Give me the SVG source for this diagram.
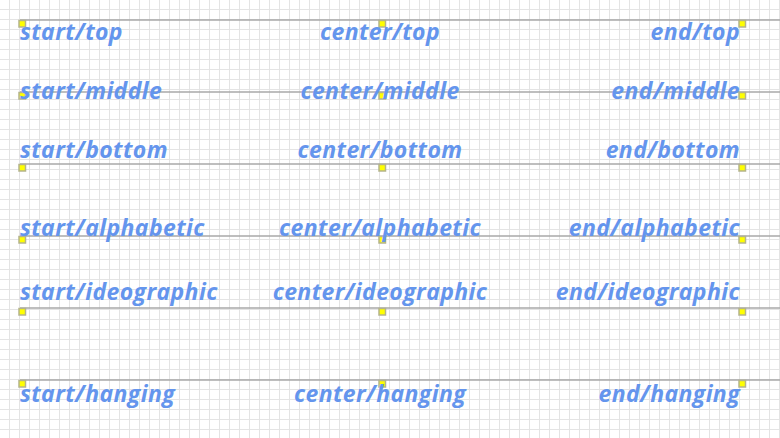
<svg xmlns="http://www.w3.org/2000/svg" width="780" height="438" viewBox="0 0 780 438">
<style>
.guide{stroke:#a8a8a8;stroke-width:1.5;fill:none}
.anchor{fill:#ffff00;stroke:#b4b48c;stroke-width:1.5}
.lbl{font-family:"Open Sans","Noto Sans","DejaVu Sans",sans-serif;font-size:23px;letter-spacing:0.4px;font-weight:bold;font-style:italic;fill:#6495ed}
.s{text-anchor:start}.c{text-anchor:middle}.e{text-anchor:end}
</style>
<defs>
<pattern id="grid" x="0" y="0" width="10" height="10" patternUnits="userSpaceOnUse">
<path d="M0 9.5H10M9.5 0V10" stroke="#e4e4e4" stroke-width="1" fill="none"/>
</pattern>
</defs>
<rect width="780" height="438" fill="#ffffff"/>
<rect width="780" height="438" fill="url(#grid)"/>
<g id="connectors">
<line class="guide" x1="20" y1="20" x2="780" y2="20"/>
<line class="guide" x1="20" y1="92" x2="780" y2="92"/>
<line class="guide" x1="20" y1="164" x2="780" y2="164"/>
<line class="guide" x1="20" y1="236" x2="780" y2="236"/>
<line class="guide" x1="20" y1="308" x2="780" y2="308"/>
<line class="guide" x1="20" y1="380" x2="780" y2="380"/>
</g>
<g id="start-top"><rect class="anchor" x="19" y="20.5" width="6.5" height="6.5"/><text class="lbl s" x="20" y="39.5">start/top</text></g>
<g id="center-top"><rect class="anchor" x="379" y="20.5" width="6.5" height="6.5"/><text class="lbl c" x="380" y="39.5">center/top</text></g>
<g id="end-top"><rect class="anchor" x="739" y="20.5" width="6.5" height="6.5"/><text class="lbl e" x="740" y="39.5">end/top</text></g>
<g id="start-middle"><rect class="anchor" x="19" y="92.5" width="6.5" height="6.5"/><text class="lbl s" x="20" y="99">start/middle</text></g>
<g id="center-middle"><rect class="anchor" x="379" y="92.5" width="6.5" height="6.5"/><text class="lbl c" x="380" y="99">center/middle</text></g>
<g id="end-middle"><rect class="anchor" x="739" y="92.5" width="6.5" height="6.5"/><text class="lbl e" x="740" y="99">end/middle</text></g>
<g id="start-bottom"><rect class="anchor" x="19" y="164.5" width="6.5" height="6.5"/><text class="lbl s" x="20" y="157.5">start/bottom</text></g>
<g id="center-bottom"><rect class="anchor" x="379" y="164.5" width="6.5" height="6.5"/><text class="lbl c" x="380" y="157.5">center/bottom</text></g>
<g id="end-bottom"><rect class="anchor" x="739" y="164.5" width="6.5" height="6.5"/><text class="lbl e" x="740" y="157.5">end/bottom</text></g>
<g id="start-alphabetic"><rect class="anchor" x="19" y="236.5" width="6.5" height="6.5"/><text class="lbl s" x="20" y="236">start/alphabetic</text></g>
<g id="center-alphabetic"><rect class="anchor" x="379" y="236.5" width="6.5" height="6.5"/><text class="lbl c" x="380" y="236">center/alphabetic</text></g>
<g id="end-alphabetic"><rect class="anchor" x="739" y="236.5" width="6.5" height="6.5"/><text class="lbl e" x="740" y="236">end/alphabetic</text></g>
<g id="start-ideographic"><rect class="anchor" x="19" y="308.5" width="6.5" height="6.5"/><text class="lbl s" x="20" y="300">start/ideographic</text></g>
<g id="center-ideographic"><rect class="anchor" x="379" y="308.5" width="6.5" height="6.5"/><text class="lbl c" x="380" y="300">center/ideographic</text></g>
<g id="end-ideographic"><rect class="anchor" x="739" y="308.5" width="6.5" height="6.5"/><text class="lbl e" x="740" y="300">end/ideographic</text></g>
<g id="start-hanging"><rect class="anchor" x="19" y="380.5" width="6.5" height="6.5"/><text class="lbl s" x="20" y="401.5">start/hanging</text></g>
<g id="center-hanging"><rect class="anchor" x="379" y="380.5" width="6.5" height="6.5"/><text class="lbl c" x="380" y="401.5">center/hanging</text></g>
<g id="end-hanging"><rect class="anchor" x="739" y="380.5" width="6.5" height="6.5"/><text class="lbl e" x="740" y="401.5">end/hanging</text></g>
</svg>
